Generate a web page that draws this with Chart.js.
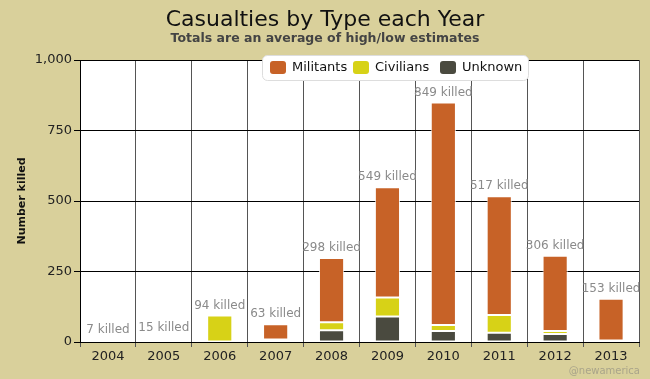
<!DOCTYPE html>
<html>
<head>
<meta charset="utf-8">
<script src="https://cdn.jsdelivr.net/npm/chart.js@4"></script>
<style>
  html, body { margin: 0; padding: 0; background: #d9d09b; }
  #wrap { width: 650px; height: 379px; }
</style>
</head>
<body>
<div id="wrap"><canvas id="myChart" width="650" height="379"></canvas></div>
<script>
const years = ["2004","2005","2006","2007","2008","2009","2010","2011","2012","2013"];
const militants = [0, 0, 0, 54, 228, 391, 789, 421, 267, 148];
const civilians = [0, 0, 94, 0, 28, 68, 21, 63, 11, 2];
const unknown = [0, 0, 0, 9, 42, 90, 39, 33, 28, 3];
const totals = [7, 15, 94, 63, 298, 549, 849, 517, 306, 153];
const y_ticks = [0, 250, 500, 750, 1000];

const FONT = "'DejaVu Sans', sans-serif";

const decorations = {
    id: 'decorations',
    afterDatasetsDraw(chart) {
        const ctx = chart.ctx;
        const x = chart.scales.x, y = chart.scales.y;
        ctx.save();
        ctx.font = '12px ' + FONT;
        ctx.fillStyle = '#8a8a8a';
        ctx.textAlign = 'center';
        ctx.textBaseline = 'middle';
        totals.forEach((t, i) => {
            ctx.fillText(t + ' killed', x.getPixelForValue(i), y.getPixelForValue(t) - 10);
        });
        ctx.restore();
    },
    afterDraw(chart) {
        const ctx = chart.ctx;
        ctx.save();
        // title + subtitle
        ctx.textAlign = 'center';
        ctx.textBaseline = 'middle';
        ctx.fillStyle = '#111';
        ctx.font = '22px ' + FONT;
        ctx.fillText('Casualties by Type each Year', 325, 20);
        ctx.fillStyle = '#444';
        ctx.font = 'bold 12.5px ' + FONT;
        ctx.fillText('Totals are an average of high/low estimates', 325, 39);

        // legend box
        ctx.fillStyle = '#fff';
        ctx.strokeStyle = '#ddd';
        ctx.lineWidth = 1;
        ctx.beginPath();
        ctx.roundRect(262.5, 55.5, 266, 25, 5);
        ctx.fill();
        ctx.stroke();
        ctx.font = '13px ' + FONT;
        ctx.textAlign = 'left';
        const items = [[270, 'Militants'], [353, 'Civilians'], [440, 'Unknown']];
        items.forEach(it => {
            const ds = chart.data.datasets.find(d => d.label === it[1]);
            ctx.fillStyle = ds.backgroundColor;
            ctx.beginPath();
            ctx.roundRect(it[0], 61, 16, 13, 3);
            ctx.fill();
            ctx.fillStyle = '#111';
            ctx.fillText(it[1], it[0] + 22, 68);
        });

        // credit
        ctx.fillStyle = '#a9a48a';
        ctx.font = '10px ' + FONT;
        ctx.textAlign = 'right';
        ctx.fillText('@newamerica', 640, 371);
        ctx.restore();
    }
};

const plotBg = {
    id: 'plotBg',
    beforeDraw(chart) {
        const a = chart.chartArea;
        chart.ctx.save();
        chart.ctx.fillStyle = '#fff';
        chart.ctx.fillRect(a.left, a.top, a.right - a.left, a.bottom - a.top);
        chart.ctx.restore();
    }
};

const barStyle = {
    borderColor: 'rgba(255,255,255,0.8)',
    borderWidth: 1,
    borderSkipped: false,
    barPercentage: 0.45,
    categoryPercentage: 1.0,
};

const myChart = new Chart('myChart', {
    type: 'bar',
    data: {
        labels: years,
        datasets: [
            { label: 'Unknown', data: unknown, backgroundColor: '#4a4a3f', ...barStyle },
            { label: 'Civilians', data: civilians, backgroundColor: '#d7d217', ...barStyle },
            { label: 'Militants', data: militants, backgroundColor: '#c76227', ...barStyle },
        ]
    },
    options: {
        responsive: false,
        animation: false,
        layout: { padding: { top: 60, right: 11, left: 0, bottom: 0 } },
        plugins: {
            legend: { display: false },
            title: { display: false },
            tooltip: { enabled: false },
        },
        scales: {
            x: {
                stacked: true,
                grid: { color: '#555', tickLength: 5, offset: true },
                border: { color: '#000' },
                ticks: { color: '#222', font: { family: FONT, size: 13 }, padding: 2 },
                afterFit(s) { s.height = 37; }
            },
            y: {
                stacked: true,
                min: 0,
                max: 1000,
                afterBuildTicks(s) { s.ticks = y_ticks.map(v => ({ value: v })); },
                grid: { color: '#000', tickLength: 6 },
                border: { color: '#000' },
                ticks: {
                    color: '#222',
                    font: { family: FONT, size: 13 },
                    padding: 2,
                    callback: v => v.toLocaleString('en-US')
                },
                title: {
                    display: true,
                    text: 'Number killed',
                    color: '#111',
                    font: { family: FONT, size: 11, weight: 'bold' },
                    padding: { top: 16, bottom: 0 }
                },
                afterFit(s) { s.width = 80; }
            }
        }
    },
    plugins: [plotBg, decorations]
});
</script>
</body>
</html>
